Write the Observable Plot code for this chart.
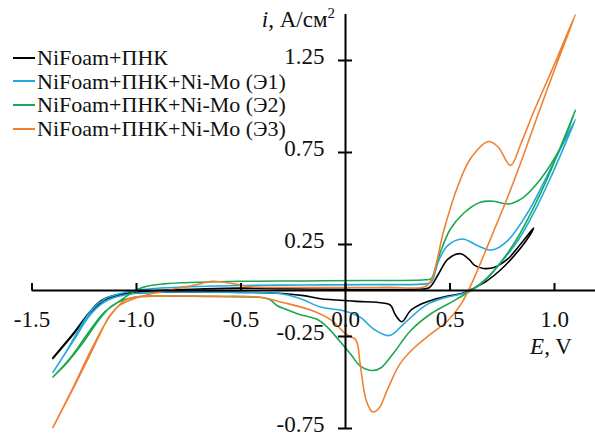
<!DOCTYPE html>
<html>
<head>
<meta charset="utf-8">
<script src="https://cdn.jsdelivr.net/npm/d3@7"></script>
<script src="https://cdn.jsdelivr.net/npm/@observablehq/plot@0.6"></script>
<style>
  html, body { margin: 0; padding: 0; background: #fff; }
  #wrap { position: relative; width: 595px; height: 436px; font-family: "Liberation Serif", "Times New Roman", Times, serif; }
  #legend { position: absolute; left: 13px; top: 46px; font-size: 22px; line-height: 23.6px; color: #111; }
  #legend .row { display: flex; align-items: center; white-space: nowrap; }
  #legend .sw { display: inline-block; width: 22px; height: 2px; margin-right: 2px; }
</style>
</head>
<body>
<div id="wrap"></div>
<script>
// ---- data ----
const seriesNames = ["NiFoam+ПНК", "NiFoam+ПНК+Ni-Mo (Э1)", "NiFoam+ПНК+Ni-Mo (Э2)", "NiFoam+ПНК+Ni-Mo (Э3)"];
const seriesColors = ["#000000", "#22a7e0", "#1ba84f", "#ef8133"];

const xTicks = [-1.5, -1.0, -0.5, 0.0, 0.5, 1.0];
const xTickLabels = ["-1.5", "-1.0", "-0.5", "0.0", "0.5", "1.0"];
const yTicks = [-0.75, -0.25, 0.25, 0.75, 1.25];
const yTickLabels = ["-0.75", "-0.25", "0.25", "0.75", "1.25"];

// NiFoam+ПНК (loop: anodic sweep then return)
const blackE = [-1.40,-1.30,-1.23,-1.17,-1.11,-1.03,-0.90,-0.70,-0.50,-0.30,0.00,0.20,0.35,0.40,0.445,0.49,0.55,0.59,0.62,0.66,0.71,0.775,0.84,0.90,
  0.87,0.80,0.74,0.68,0.61,0.56,0.49,0.42,0.36,0.31,0.27,0.24,0.215,0.18,0.04,-0.12,-0.20,-0.30,-0.50,-0.80,-1.00,-1.08,-1.15,-1.22,-1.30,-1.40];
const blackI = [-0.365,-0.23,-0.125,-0.055,-0.027,-0.012,0.0,0.008,0.013,0.01,0.006,0.005,0.008,0.015,0.09,0.17,0.20,0.17,0.135,0.12,0.125,0.17,0.255,0.34,
  0.28,0.18,0.11,0.055,0.01,-0.015,-0.03,-0.05,-0.075,-0.11,-0.17,-0.135,-0.08,-0.068,-0.058,-0.045,-0.028,-0.016,-0.01,-0.008,-0.014,-0.025,-0.05,-0.12,-0.235,-0.37];

// Э1
const blueE = [-1.40,-1.33,-1.27,-1.21,-1.15,-1.08,-1.00,-0.90,-0.70,-0.50,-0.20,0.10,0.38,0.41,0.445,0.49,0.56,0.63,0.70,0.775,0.87,0.95,1.02,1.10,
  1.06,0.98,0.90,0.83,0.75,0.68,0.61,0.55,0.47,0.40,0.36,0.28,0.21,0.135,0.07,-0.01,-0.12,-0.215,-0.31,-0.50,-0.80,-1.00,-1.08,-1.15,-1.22,-1.30,-1.40];
const blueI = [-0.445,-0.32,-0.20,-0.10,-0.045,-0.018,0.0,0.012,0.022,0.027,0.03,0.032,0.036,0.045,0.16,0.245,0.28,0.245,0.22,0.27,0.42,0.59,0.75,0.93,
  0.82,0.61,0.42,0.28,0.16,0.07,0.005,-0.02,-0.04,-0.07,-0.10,-0.18,-0.245,-0.21,-0.145,-0.11,-0.09,-0.045,-0.018,-0.01,-0.008,-0.015,-0.03,-0.06,-0.13,-0.27,-0.445];

// Э2
const greenE = [-1.40,-1.316,-1.234,-1.16,-1.09,-1.03,-0.97,-0.87,-0.70,-0.50,-0.20,0.10,0.38,0.41,0.445,0.50,0.565,0.645,0.71,0.78,0.85,0.93,1.03,1.10,
  1.05,0.97,0.90,0.82,0.74,0.67,0.60,0.52,0.41,0.31,0.23,0.17,0.13,0.07,0.024,-0.024,-0.086,-0.13,-0.22,-0.28,-0.33,-0.36,-0.40,-0.60,-0.90,-1.00,-1.06,-1.12,-1.18,-1.26,-1.33,-1.40];
const greenI = [-0.47,-0.365,-0.235,-0.125,-0.065,-0.018,0.017,0.036,0.045,0.05,0.052,0.054,0.058,0.065,0.18,0.33,0.42,0.48,0.485,0.47,0.505,0.60,0.78,0.98,
  0.84,0.62,0.45,0.28,0.15,0.06,0.0,-0.055,-0.125,-0.22,-0.34,-0.42,-0.435,-0.41,-0.345,-0.28,-0.20,-0.16,-0.13,-0.105,-0.08,-0.05,-0.038,-0.033,-0.03,-0.035,-0.05,-0.085,-0.16,-0.29,-0.39,-0.47];

// Э3
const orangeE = [-1.40,-1.32,-1.24,-1.18,-1.13,-1.08,-1.00,-0.92,-0.82,-0.72,-0.64,-0.58,-0.53,-0.45,-0.30,0.00,0.20,0.38,0.41,0.47,0.535,0.60,0.685,0.73,0.79,0.84,0.90,1.00,1.10,
  1.00,0.90,0.84,0.775,0.69,0.61,0.555,0.49,0.41,0.33,0.26,0.20,0.16,0.13,0.10,0.07,0.05,0.00,-0.07,-0.17,-0.30,-0.41,-0.60,-0.90,-1.00,-1.05,-1.10,-1.15,-1.22,-1.30,-1.40];
const orangeI = [-0.745,-0.57,-0.39,-0.25,-0.14,-0.08,-0.04,-0.015,0.008,0.03,0.05,0.045,0.035,0.02,0.016,0.016,0.017,0.02,0.054,0.325,0.56,0.72,0.81,0.78,0.68,0.80,0.97,1.23,1.50,
  1.20,0.89,0.70,0.505,0.27,0.054,-0.07,-0.163,-0.235,-0.31,-0.40,-0.54,-0.64,-0.66,-0.60,-0.40,-0.27,-0.235,-0.16,-0.105,-0.065,-0.037,-0.032,-0.03,-0.035,-0.05,-0.10,-0.18,-0.33,-0.52,-0.745];

// ---- build table ----
const curves = [[blackE, blackI], [blueE, blueI], [greenE, greenI], [orangeE, orangeI]];
const rows = [];
curves.forEach(([E, I], s) => E.forEach((e, k) => rows.push({series: seriesNames[s], E: e, i: I[k]})));

const font = "'Liberation Serif', 'Times New Roman', Times, serif";

const chart = Plot.plot({
  width: 595,
  height: 436,
  margin: 0,
  x: {domain: [-1.5, 1.2], range: [31.5, 595.8], axis: null},
  y: {domain: [-0.75, 1.5], range: [428, 14], axis: null},
  color: {domain: seriesNames, range: seriesColors},
  style: {fontFamily: font, fontSize: "23px", background: "transparent", color: "#111"},
  marks: [
    Plot.line(rows, {x: "E", y: "i", z: "series", stroke: "series", curve: "catmull-rom", strokeWidth: 1.6}),
    Plot.ruleY([0], {x1: -1.5, x2: 1.2, stroke: "#000", strokeWidth: 2}),
    Plot.ruleX([0], {y1: -0.75, y2: 1.5, stroke: "#000", strokeWidth: 2}),
    Plot.ruleX(xTicks, {x: d => d, y1: 0, y2: 7 / 184, stroke: "#000", strokeWidth: 2}),
    Plot.ruleY(yTicks, {y: d => d, x1: -7 / 209, x2: 7 / 209, stroke: "#000", strokeWidth: 2}),
    Plot.text(xTicks, {x: d => d, y: 0, dy: 29, text: (d, k) => xTickLabels[k], fill: "#111"}),
    Plot.text(yTicks, {x: 0, y: d => d, dx: -21, dy: -4, textAnchor: "end", text: (d, k) => yTickLabels[k], fill: "#111"})
  ]
});

const wrap = document.getElementById("wrap");
wrap.appendChild(chart);

// axis titles
const svg = d3.select(chart);
const yt = svg.append("text").attr("x", 335).attr("y", 27).attr("text-anchor", "end")
  .attr("font-family", font).attr("font-size", 23).attr("fill", "#111");
yt.append("tspan").attr("font-style", "italic").text("i");
yt.append("tspan").text(", А/см");
yt.append("tspan").attr("dy", -9).attr("font-size", 15).text("2");

const xt = svg.append("text").attr("x", 551).attr("y", 354)
  .attr("font-family", font).attr("font-size", 23).attr("fill", "#111");
xt.append("tspan").attr("font-style", "italic").text("E");
xt.append("tspan").text(", V");

// legend
const legend = d3.select(wrap).append("div").attr("id", "legend");
seriesNames.forEach((name, s) => {
  const row = legend.append("div").attr("class", "row");
  row.append("span").attr("class", "sw").style("background", seriesColors[s]);
  row.append("span").text(name);
});
</script>
</body>
</html>
